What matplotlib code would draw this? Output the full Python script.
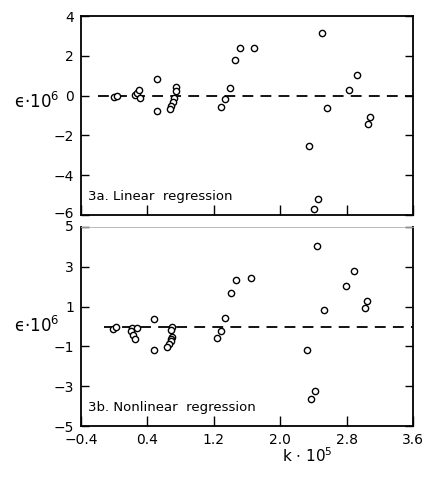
import matplotlib
matplotlib.use("Agg")
import matplotlib.pyplot as plt
import matplotlib.transforms as mtransforms

plt.rcParams['font.family'] = ['DejaVu Sans']
plt.rcParams['mathtext.fontset'] = 'dejavusans'

# ---- data (k*10^5, eps*10^6) ----
lin_k = [0.00, 0.03, 0.25, 0.27, 0.30, 0.31, 0.52, 0.51,
         0.75, 0.74, 0.72, 0.71, 0.69, 0.67,
         1.29, 1.33, 1.39, 1.45, 1.52, 1.69,
         2.35, 2.45, 2.41, 2.50, 2.56, 2.83, 2.93, 3.08, 3.06]
lin_eps = [-0.05, 0.00, 0.01, 0.11, 0.28, -0.10, 0.82, -0.78,
           0.45, 0.25, -0.10, -0.30, -0.50, -0.65,
           -0.56, -0.19, 0.40, 1.78, 2.38, 2.38,
           -2.55, -5.18, -5.68, 3.13, -0.61, 0.28, 1.04, -1.07, -1.42]

nl_k = [-0.01, 0.02, 0.21, 0.27, 0.20, 0.23, 0.25, 0.48, 0.48,
        0.70, 0.68, 0.70, 0.69, 0.68, 0.66, 0.64,
        1.24, 1.29, 1.34, 1.41, 1.47, 1.65,
        2.44, 2.32, 2.42, 2.37, 2.53, 2.79, 2.89, 3.05, 3.02]
nl_eps = [-0.13, -0.05, -0.10, -0.10, -0.25, -0.45, -0.65, 0.38, -1.19,
          0.00, -0.20, -0.55, -0.65, -0.75, -0.90, -1.05,
          -0.60, -0.21, 0.42, 1.70, 2.32, 2.46,
          4.07, -1.18, -3.22, -3.63, 0.85, 2.02, 2.80, 1.28, 0.94]

x_ticks = [-0.4, 0.4, 1.2, 2.0, 2.8, 3.6]
x_ticklabels = ["-0.4", "0.4", "1.2", "2.0", "2.8", "3.6"]
top_yticks = [4, 2, 0, -2, -4, -6]
bot_yticks = [5, 3, 1, -1, -3, -5]

W, H = 424, 480
fig = plt.figure(figsize=(W / 100, H / 100), dpi=100)

def px_axes(l, r, t, b):
    return fig.add_axes([l / W, 1 - b / H, (r - l) / W, (b - t) / H])

ax1 = px_axes(81, 413, 16, 215)
ax2 = px_axes(81, 413, 227, 426)

ylabel = "\u03f5\u00b710$^6$"

for ax, k, e, yt, ylim, title, dash_start, ylab_y in [
        (ax1, lin_k, lin_eps, top_yticks, (-6, 4), "3a. Linear  regression", -0.2, -0.3),
        (ax2, nl_k, nl_eps, bot_yticks, (-5, 5), "3b. Nonlinear  regression", -0.12, 0.05)]:
    ax.hlines(0, dash_start, 3.6, colors='black', linewidth=1.3,
              linestyles=(0, (6, 4)), zorder=1)
    ax.plot(k, e, linestyle='none', marker='o', markersize=4.5,
            markerfacecolor='white', markeredgecolor='black',
            markeredgewidth=1.0, zorder=3)
    ax.set_xlim(-0.4, 3.6)
    ax.set_ylim(*ylim)
    ax.set_yticks(yt)
    ax.set_yticklabels([str(v).replace('-', '\u2212') for v in yt])
    ax.set_xticks(x_ticks)
    ax.tick_params(axis='both', direction='in', length=7, width=1.0,
                   labelsize=10, pad=5)
    ax.tick_params(axis='y', right=True, length=6)
    for s in ax.spines.values():
        s.set_linewidth(1.3)
    ax.text(0.02, 0.06, title, transform=ax.transAxes, fontsize=9.5,
            ha='left', va='bottom')
    trans = mtransforms.blended_transform_factory(fig.transFigure, ax.transData)
    ax.text(14 / W, ylab_y, ylabel, transform=trans, fontsize=12,
            ha='left', va='center')

ax1.set_xticklabels([])
ax2.set_xticklabels([s.replace('-', '\u2212') for s in x_ticklabels])
ax2.spines['top'].set_color('#b0b0b0')
ax2.spines['top'].set_linewidth(0.6)

# nudge the touching "-6" and "5" labels apart slightly
ax1.get_yticklabels()[-1].set_verticalalignment('bottom')
ax2.get_yticklabels()[0].set_verticalalignment('top')
fig.canvas.draw()
lab6 = ax1.get_yticklabels()[-1]
lab6.set_transform(lab6.get_transform() + mtransforms.ScaledTranslation(0, -4 / 72, fig.dpi_scale_trans))
lab5 = ax2.get_yticklabels()[0]
lab5.set_transform(lab5.get_transform() + mtransforms.ScaledTranslation(0, 5 / 72, fig.dpi_scale_trans))

fig.text(307 / W, 1 - 456 / H, r"k $\cdot$ 10$^5$", fontsize=11,
         ha='center', va='center')

fig.savefig("out.png", dpi=100, facecolor='white')
